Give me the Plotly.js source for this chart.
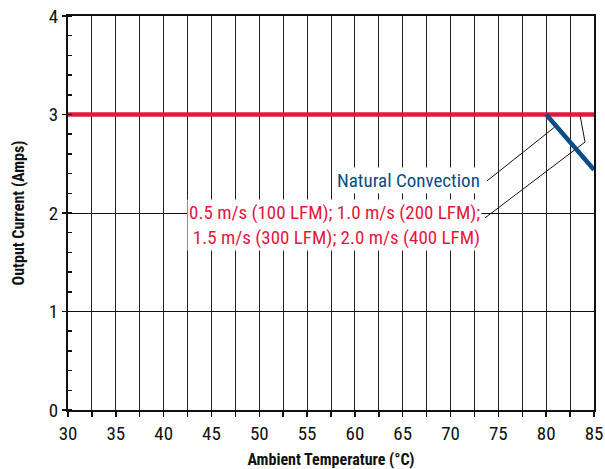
<!DOCTYPE html>
<html>
<head>
<meta charset="utf-8">
<script src="https://cdn.plot.ly/plotly-3.0.1.min.js"></script>
<style>html,body{margin:0;padding:0;background:#fff;}#chart{width:605px;height:469px;}</style>
</head>
<body>
<div id="chart"></div>
<script>
// Data
var forcedAirTemp = [30, 85];
var forcedAirCurrent = [3, 3];
var naturalTemp = [80, 85];
var naturalCurrent = [3, 2.44];
var xTickVals = [30, 35, 40, 45, 50, 55, 60, 65, 70, 75, 80, 85];
var yTickVals = [0, 1, 2, 3, 4];
var labelNatural = "Natural Convection";
var labelForced = "0.5 m/s (100 LFM); 1.0 m/s (200 LFM);<br>1.5 m/s (300 LFM); 2.0 m/s (400 LFM)";
// leader lines (data coordinates)
var leaderNaturalX = [73.8, 80.9];
var leaderNaturalY = [2.325, 2.873];
var leaderForcedX = [73.6, 84.06, 83.53];
var leaderForcedY = [1.95, 2.72, 3.0];

var FONT = "'Liberation Sans Narrow', 'Arial Narrow', 'Roboto Condensed', 'Liberation Sans', sans-serif";
var RED = "#e5173f";
var BLUE = "#0b4c86";

var traces = [
  {x: leaderNaturalX, y: leaderNaturalY, mode: "lines", line: {color: "#111", width: 1}, hoverinfo: "skip", showlegend: false},
  {x: leaderForcedX, y: leaderForcedY, mode: "lines", line: {color: "#111", width: 1}, hoverinfo: "skip", showlegend: false},
  {x: forcedAirTemp, y: forcedAirCurrent, mode: "lines", line: {color: RED, width: 4.5}, cliponaxis: false, showlegend: false},
  {x: naturalTemp, y: naturalCurrent, mode: "lines", line: {color: BLUE, width: 4.5}, showlegend: false}
];

var layout = {
  width: 605, height: 469,
  margin: {l: 68, r: 11, t: 16, b: 59},
  paper_bgcolor: "#fff", plot_bgcolor: "#fff",
  font: {family: FONT, size: 19, color: "#111"},
  showlegend: false,
  xaxis: {
    range: [30, 85], tickvals: xTickVals, ticktext: xTickVals.map(String),
    showgrid: true, gridcolor: "#222", gridwidth: 1,
    ticks: "outside", ticklen: 5, tickcolor: "#111", tickwidth: 1.5,
    showline: true, linecolor: "#111", linewidth: 2, mirror: true,
    zeroline: false,
    minor: {dtick: 2.5, tick0: 30, showgrid: true, gridcolor: "#222", gridwidth: 1, ticks: "outside", ticklen: 5, tickcolor: "#111", tickwidth: 1.5},
    tickfont: {family: FONT, size: 19, color: "#111"},
    title: {text: "Ambient Temperature (°C)", font: {family: FONT, size: 16, color: "#111", weight: "bold"}, standoff: 16}
  },
  yaxis: {
    range: [0, 4], tickvals: yTickVals, ticktext: yTickVals.map(String),
    showgrid: true, gridcolor: "#111", gridwidth: 1,
    ticks: "outside", ticklen: 4, tickcolor: "#111", tickwidth: 1.5,
    showline: true, linecolor: "#111", linewidth: 2, mirror: true,
    zeroline: false,
    minor: {dtick: 0.2, tick0: 0, showgrid: false, ticks: "inside", ticklen: 4, tickcolor: "#111", tickwidth: 1.5},
    tickfont: {family: FONT, size: 19, color: "#111"},
    title: {text: "Output Current (Amps)", font: {family: FONT, size: 16, color: "#111", weight: "bold"}, standoff: 20}
  },
  annotations: [
    {x: 73.3, y: 2.325, xref: "x", yref: "y", xanchor: "right", yanchor: "middle", text: labelNatural, showarrow: false,
     font: {family: FONT, size: 19, color: BLUE}, bgcolor: "#fff", borderpad: 1},
    {x: 73.3, y: 1.88, xref: "x", yref: "y", xanchor: "right", yanchor: "middle", align: "right", text: labelForced, showarrow: false,
     font: {family: FONT, size: 19, color: RED}, bgcolor: "#fff", borderpad: 1}
  ]
};

Plotly.newPlot("chart", traces, layout, {displayModeBar: false, staticPlot: true});
</script>
</body>
</html>
